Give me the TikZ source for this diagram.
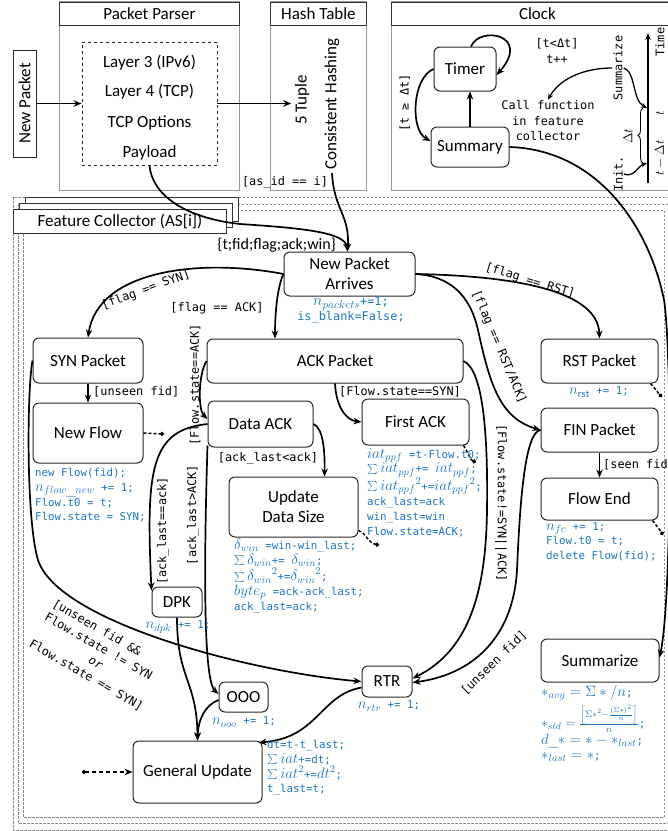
\documentclass[tikz,border=0pt]{standalone}
\usepackage{fix-cm}
\usepackage{fontspec}
\setmainfont{Carlito}
\newfontfamily\monof{DejaVu Sans Mono}
\usetikzlibrary{arrows.meta,decorations.pathreplacing}
\definecolor{cblue}{RGB}{30,115,195}
\newcommand\mth[1]{{\fontsize{15}{14}\selectfont$#1$}}
\newcommand\mthb[1]{{\fontsize{16}{15}\selectfont$#1$}}
\newcommand\mths[1]{{\fontsize{13.5}{14}\selectfont$#1$}}
\begin{document}
\begin{tikzpicture}[x=1pt,y=-1pt,
 mainf/.style={font=\fontsize{17}{20}\selectfont},
 lbl/.style={font=\monof\fontsize{11.9}{15.5}\selectfont, inner sep=1pt},
 code/.style={font=\monof\fontsize{10.8}{14.8}\selectfont, text=cblue, align=left, inner sep=0pt},
 box/.style={draw=black!85, line width=1pt, rounded corners=6pt, mainf, align=center, inner sep=0pt},
 arr/.style={line width=1.7pt, -{Stealth[length=8pt,width=6.5pt]}},
 thinarr/.style={line width=1.3pt, -{Stealth[length=6pt,width=5pt]}},
 stub/.style={line width=1.5pt, dash pattern=on 3pt off 2pt, -{Circle[length=4pt]}},
 panel/.style={draw=black!40, line width=0.9pt},
 tbar/.style={draw=black!80, line width=0.9pt, mainf, inner sep=0pt, anchor=north west, minimum height=23},
 dpanel/.style={draw=black!45, line width=0.7pt, dash pattern=on 2.5pt off 1.5pt},
]
\useasboundingbox (0,0) rectangle (668,831);

% ---------- Feature collector frames ----------
\draw[dpanel] (13,197) rectangle (700,830);
\draw[dpanel] (18,204) rectangle (690,823);
\draw[dpanel] (23,210) rectangle (664,817);
\node[draw=black!80, fill=white, line width=0.9pt, minimum width=213, minimum height=24, anchor=north west, inner sep=0] (fcb3) at (25,197) {};
\node[draw=black!80, fill=white, line width=0.9pt, minimum width=213, minimum height=24, anchor=north west, inner sep=0] (fcb2) at (19,203) {};
\node[draw=black!80, fill=white, line width=0.9pt, minimum width=213, minimum height=24, anchor=north west, inner sep=0, mainf] (fc) at (13,209) {Feature Collector (AS[i])};

% ---------- top panels ----------
\draw[panel] (59,1.5) rectangle (239,190);
\node[tbar, minimum width=180] (ppt) at (59,1.5) {Packet Parser};
\draw[panel] (270,1.5) rectangle (366,190);
\node[tbar, minimum width=96] (htt) at (270,1.5) {Hash Table};
\draw[panel] (391,1.5) rectangle (683,190);
\node[tbar, minimum width=292] (clt) at (391,1.5) {Clock};

\node[draw=black!85, line width=1pt, rotate=90, minimum width=107, minimum height=23, mainf, inner sep=0] (newpkt) at (24.5,103.5) {New Packet};
\node[draw=black!85, dashed, line width=0.9pt, minimum width=135, minimum height=123, inner sep=0] (parse) at (149.5,103.5) {};
\node[mainf] (l3) at (149.5,63) {Layer 3 (IPv6)};
\node[mainf] (l4) at (149.5,92) {Layer 4 (TCP)};
\node[mainf] (tcpo) at (149.5,123) {TCP Options};
\node[mainf] (payl) at (149.5,153) {Payload};
\draw[arr] (newpkt.south) -- (parse.west);

\node[mainf, rotate=90] (tuple) at (302,100) {5 Tuple};
\node[mainf, rotate=90] (hash) at (332,104) {Consistent Hashing};
\draw[arr] (parse.east) -- (parse.east -| tuple.north);

% ---------- clock ----------
\node[box, minimum width=62, minimum height=44] (timer) at (465,69) {Timer};
\node[box, minimum width=78, minimum height=40] (summary) at (470,147) {Summary};
\draw[arr] (summary.north) -- (summary.north |- timer.south);
\draw[arr] ([xshift=6pt]timer.north) .. controls (480,25) and (532,35) .. ([yshift=-6pt]timer.east);
\draw[arr] (timer.west) .. controls (412,78) and (410,130) .. ([yshift=6pt]summary.west);
\node[lbl, rotate=90] (tge) at (405,103) {[t ≥ Δt]};
\node[lbl, align=center] (tlt) at (557,51) {[t<Δt]\\t++};
\node[lbl, align=center] (callfn) at (548,121) {Call function\\in feature\\collector};
\coordinate (axbot) at (648,183);
\coordinate (axtop) at (648,33);
\draw[line width=1.4pt, -{Stealth[length=7pt,width=5.5pt]}] (axbot) -- (axtop);
\node[lbl, rotate=90] (timelbl) at (660,42) {Time};
\node[lbl, rotate=90] (sumlbl) at (618,68) {Summarize};
\node[lbl, rotate=90] (initlbl) at (618,174) {Init.};
\draw[line width=0.9pt, decorate, decoration={brace, amplitude=5pt}] (643,163) -- (643,108);
\node[rotate=90, font=\fontsize{13}{14}\selectfont, inner sep=1pt] (dtl) at (628,136) {$\Delta t$};
\node[rotate=90, font=\fontsize{13}{14}\selectfont, inner sep=1pt] (tl) at (660,113) {$t$};
\node[rotate=90, font=\fontsize{13}{14}\selectfont, inner sep=1pt] (tdl) at (660,158) {$t-\Delta t$};
\coordinate (tpt) at (647,108);
\coordinate (tdpt) at (647,163);
\draw[thinarr] (sumlbl.north) .. controls (585,68) and (560,78) .. (callfn.north);
\draw[thinarr] (sumlbl.south) .. controls (636,72) and (632,100) .. (tpt);
\draw[thinarr] (initlbl.south) .. controls (634,178) and (638,166) .. (tdpt);

% ---------- feature collector nodes ----------
\node[box, minimum width=131, minimum height=44] (npa) at (349.5,274) {New Packet\\Arrives};
\node[box, minimum width=110, minimum height=45] (syn) at (88,360.5) {SYN Packet};
\node[box, minimum width=256, minimum height=44] (ack) at (335,361) {ACK Packet};
\node[box, minimum width=117, minimum height=44] (rst) at (599.5,361) {RST Packet};
\node[box, minimum width=110, minimum height=60] (newflow) at (88,433) {New Flow};
\node[box, minimum width=105, minimum height=46] (dataack) at (260.5,424) {Data ACK};
\node[box, minimum width=107, minimum height=46] (firstack) at (415.5,422) {First ACK};
\node[box, minimum width=117, minimum height=44] (fin) at (599.5,430) {FIN Packet};
\node[box, minimum width=129, minimum height=60] (update) at (293.5,507) {Update\\Data Size};
\node[box, minimum width=117, minimum height=42] (flowend) at (599.5,499) {Flow End};
\node[box, minimum width=50, minimum height=30] (dpk) at (177,602) {DPK};
\node[box, minimum width=118, minimum height=43] (summarize) at (600,660.5) {Summarize};
\node[box, minimum width=50, minimum height=31] (rtr) at (387,681.5) {RTR};
\node[box, minimum width=49, minimum height=30] (ooo) at (243.5,697) {OOO};
\node[box, minimum width=129, minimum height=62] (genupd) at (197.5,772) {General Update};

% ---------- inputs to New Packet Arrives ----------
\draw[arr] (parse.south) .. controls (152,195) and (185,218) .. (240,224) .. controls (300,228) and (345,232) .. ([xshift=-2pt]npa.north);
\draw[arr] (hash.west) .. controls (334,210) and (350,215) .. ([xshift=-2pt]npa.north);
\node[lbl] (asid) at (285,182) {[as\_id == i]};
\node[font=\fontsize{16}{18}\selectfont, anchor=east, inner sep=1pt] (tuple5) at (337,245) {\{t;fid;flag;ack;win\}};

% ---------- connectors ----------
\draw[arr] (npa.west) .. controls (200,258) and (98,270) .. (syn.north);
\node[lbl, rotate=20] (fsyn) at (146,290) {[flag == SYN]};
\draw[arr] (npa.west) .. controls (278,285) and (275,310) .. ([xshift=-60pt]ack.north);
\node[lbl] (fack) at (217,308) {[flag == ACK]};
\draw[arr] (npa.east) .. controls (520,276) and (598,292) .. (rst.north);
\node[lbl, rotate=-17] (frst) at (530,281) {[flag == RST]};
\draw[arr] (npa.east) .. controls (450,276) and (470,295) .. (478,330) .. controls (490,385) and (500,418) .. (fin.west);
\node[lbl, rotate=-67] (frstack) at (499,347) {[flag == RST/ACK]};

\draw[arr] (syn.south) -- (newflow.north);
\node[lbl, anchor=west] (unseen1) at (92,392) {[unseen fid]};
\coordinate (nfdot) at (164,434);
\draw[stub] (newflow.east) -- (nfdot);

\draw[arr] (syn.west) .. controls (27,390) and (26,520) .. (38,560) .. controls (58,622) and (250,672) .. (rtr.west);
\node[lbl, rotate=-30, anchor=north west, align=left, inner sep=0pt] (unseenlbl) at (56,598) {[unseen fid \&\&\\Flow.state != SYN\\\hspace*{5em}{\itshape or}\\Flow.state == SYN]};

\draw[arr] (ack.west) .. controls (198,375) and (198,410) .. ([yshift=5pt]dataack.west);
\node[lbl, rotate=90] (fsack) at (195,385) {[Flow.state==ACK]};
\draw[arr] (ack.south) .. controls (336,405) and (345,420) .. (firstack.west);
\node[lbl] (fssyn) at (400,392) {[Flow.state==SYN]};

\draw[arr] (dataack.east) .. controls (323,428) and (325,450) .. ([xshift=31pt]update.north);
\node[lbl] (alt) at (268,458) {[ack\_last<ack]};
\draw[arr] (dataack.west) .. controls (150,430) and (146,470) .. ([yshift=-4pt]dpk.north west);
\node[lbl, rotate=90] (aleq) at (163,531) {[ack\_last==ack]};
\draw[arr] ([yshift=2pt]dataack.south west) .. controls (204,560) and (203,680) .. ([yshift=3pt]ooo.west);
\node[lbl, rotate=90] (agt) at (193,515) {[ack\_last>ACK]};

\draw[arr] (dpk.south) .. controls (177,680) and (197,680) .. (genupd.north);
\draw[arr] ([yshift=-3pt]ooo.west) .. controls (205,705) and (198,720) .. (genupd.north);
\draw[arr] ([yshift=-6pt]rtr.west) .. controls (320,695) and (318,738) .. ([xshift=-4pt,yshift=-2pt]genupd.north east);

\draw[arr] (ack.east) .. controls (484,370) and (488,440) .. (487,510) .. controls (486,590) and (470,650) .. ([yshift=3pt]rtr.east);
\node[lbl, rotate=-90] (fsne) at (501,503) {[Flow.state!=SYN||ACK]};
\draw[arr] (fin.west) .. controls (525,432) and (520,500) .. (517,570) .. controls (513,640) and (470,675) .. ([yshift=-1pt]rtr.east);
\node[lbl, rotate=44] (unseen2) at (494,663) {[unseen fid]};

\draw[arr] (fin.south) -- (flowend.north);
\node[lbl, anchor=west] (seen) at (602,465) {[seen fid]};

\draw[arr] (summary.east) .. controls (600,150) and (650,230) .. (664,300) .. controls (672,350) and (672,600) .. ([yshift=3pt]summarize.east);

% ---------- dashed stubs ----------
\coordinate (upddot) at (379,545);
\draw[stub] ([yshift=7pt]update.south east) .. controls (366,533) and (368,543) .. (upddot);
\coordinate (fadot) at (476,462);
\draw[stub] ([xshift=-6pt]firstack.south east) .. controls (468,452) and (470,460) .. (fadot);
\coordinate (rstdot) at (662,397);
\draw[stub] ([xshift=-8pt]rst.south east) .. controls (655,388) and (658,393) .. (rstdot);
\coordinate (fedot) at (663,535);
\draw[stub] ([xshift=-6pt]flowend.south east) .. controls (656,525) and (660,530) .. (fedot);
\coordinate (gudot) at (82,772);
\draw[line width=1.5pt, dash pattern=on 4pt off 3pt, {Circle[length=4pt]}-{Stealth[length=8pt,width=6.5pt]}] (gudot) -- (genupd.west);

% ---------- code annotations ----------
\node[code, font=\monof\fontsize{11.9}{14.5}\selectfont, align=center, anchor=north] (npacode) at (351,297) {\mthb{n_{packets}}+=1;\\is\_blank=False;};
\node[code, anchor=north west] (nfcode) at (35,468) {new Flow(fid);\\\mth{n_{flow\_new}} += 1;\\Flow.t0 = t;\\Flow.state = SYN;};
\node[code, anchor=north west] (updcode) at (234,539) {\mth{\delta_{win}} =win-win\_last;\\\mth{\sum\delta_{win}}+= \mth{\delta_{win}};\\\mth{\sum{\delta_{win}}^2}+=\mth{{\delta_{win}}^2};\\\mth{byte_p} =ack-ack\_last;\\ack\_last=ack;};
\node[code, anchor=north west] (facode) at (367,448) {\mth{iat_{ppf}} =t-Flow.t0;\\\mth{\sum iat_{ppf}}+= \mth{iat_{ppf}};\\\mth{\sum {iat_{ppf}}^2}+=\mth{{iat_{ppf}}^2};\\ack\_last=ack\\win\_last=win\\Flow.state=ACK;};
\node[code] (dpkcode) at (178,627) {\mth{n_{dpk}} += 1;};
\node[code] (ooocode) at (244,722) {\mth{n_{ooo}} += 1;};
\node[code] (rtrcode) at (389,706) {\mth{n_{rtr}} += 1;};
\node[code] (rstcode) at (599,392) {\mth{n_{\mathrm{rst}}} += 1;};
\node[code, anchor=north west] (fecode) at (546,522) {\mth{n_{fc}} += 1;\\Flow.t0 = t;\\delete Flow(fid);};
\node[code, anchor=north west] (gucode) at (267,740) {dt=t-t\_last;\\\mth{\sum iat}+=dt;\\\mth{\sum iat^2}+=\mth{dt^2};\\t\_last=t;};
\node[code, anchor=west] (sm1) at (541,693) {\mth{\ast_{avg}=\Sigma\ast/n};};
\node[code, anchor=west] (sm2) at (541,719) {\mths{\ast_{std}=\frac{\left[\Sigma\ast^2-\frac{(\Sigma\ast)^2}{n}\right]}{n}};};
\node[code, anchor=west] (sm3) at (541,741) {\mth{d\_\ast=\ast-\ast_{last}};};
\node[code, anchor=west] (sm4) at (541,757) {\mth{\ast_{last}=\ast};};
\end{tikzpicture}
\end{document}
